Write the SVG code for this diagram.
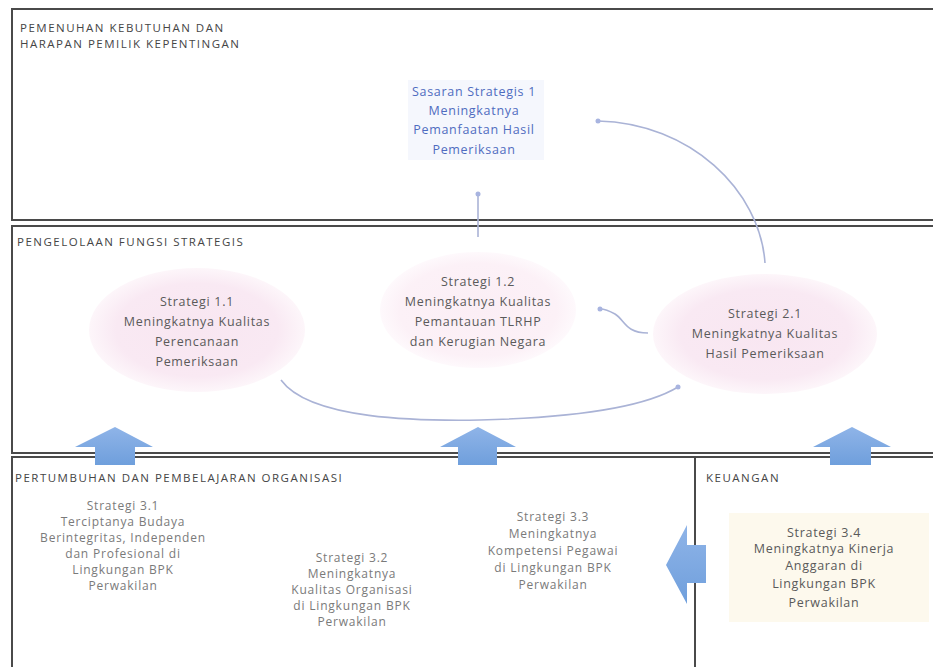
<svg xmlns="http://www.w3.org/2000/svg" width="933" height="667" viewBox="0 0 933 667">
<defs>
<radialGradient id="pink" cx="0.5" cy="0.5" r="0.5">
<stop offset="0" stop-color="#f8e6f1"/>
<stop offset="0.75" stop-color="#f9e9f3"/>
<stop offset="1" stop-color="#fdf6fa"/>
</radialGradient>
<radialGradient id="pink2" cx="0.5" cy="0.5" r="0.5">
<stop offset="0" stop-color="#fbeef5"/>
<stop offset="0.8" stop-color="#fcf1f7"/>
<stop offset="1" stop-color="#fef9fc"/>
</radialGradient>
<marker id="dot" viewBox="0 0 6 6" refX="3" refY="3" markerWidth="6" markerHeight="6" markerUnits="userSpaceOnUse">
<circle cx="3" cy="3" r="2.5" fill="#a8b4e0"/>
</marker>
<linearGradient id="arr" x1="0" y1="0" x2="0" y2="1">
<stop offset="0" stop-color="#8fb4e8"/>
<stop offset="1" stop-color="#6f9fdc"/>
</linearGradient>
</defs>
<style>
.box{fill:none;stroke:#4a4a4a;stroke-width:2}
.sec{font-family:"Open Sans",sans-serif;font-size:11.5px;fill:#454545;letter-spacing:1.5px}
.t{font-family:"Open Sans",sans-serif;font-size:12.5px;fill:#5a5a5a;text-anchor:middle;letter-spacing:0.7px}
.tl{font-family:"Open Sans",sans-serif;font-size:12px;fill:#7a7a7a;text-anchor:middle;letter-spacing:0.8px}
.tb{font-family:"Open Sans",sans-serif;font-size:12.5px;fill:#4f6cc0;text-anchor:middle;letter-spacing:0.7px}
.c{fill:none;stroke:#aab3d6;stroke-width:1.6}
.ar{fill:url(#arr)}
</style>
<rect width="933" height="667" fill="#ffffff"/>

<g id="sections">
<rect class="box" x="12" y="9" width="930" height="211"/>
<rect class="box" x="12" y="226" width="930" height="227"/>
<rect class="box" x="12" y="457" width="930" height="220"/>
<line class="box" x1="695" y1="457" x2="695" y2="667"/>
<text class="sec" x="20" y="32">PEMENUHAN KEBUTUHAN DAN</text>
<text class="sec" x="20" y="48">HARAPAN PEMILIK KEPENTINGAN</text>
<text class="sec" x="17" y="246">PENGELOLAAN FUNGSI STRATEGIS</text>
<text class="sec" x="15" y="482">PERTUMBUHAN DAN PEMBELAJARAN ORGANISASI</text>
<text class="sec" x="706" y="482">KEUANGAN</text>
</g>

<g id="arrows-up">
<polygon class="ar" points="115,427 153,447 135,447 135,465 95,465 95,447 75,447"/>
<polygon class="ar" points="478,427 516,447 497,447 497,465 458,465 458,447 440,447"/>
<polygon class="ar" points="852,427 891,447 871,447 871,465 830,465 830,447 813,447"/>
<polygon class="ar" points="666,565 687,525 687,545 706,545 706,583 687,583 687,604"/>
</g>

<g id="connectors">
<path class="c" d="M765,263 C760,190 690,123 598,121" marker-end="url(#dot)"/>
<path class="c" d="M478,237 L478,194" marker-end="url(#dot)"/>
<path class="c" d="M648,333 C625,333 625,320 615,314 C608,310 604,309 600,309" marker-end="url(#dot)"/>
<path class="c" d="M281,380 C310,420 420,421 480,420 C560,418 640,410 678,387" marker-end="url(#dot)"/>
</g>

<g id="sasaran1">
<rect x="408" y="80" width="136" height="80" fill="#f5f7fd"/>
<text class="tb" x="474" y="96">Sasaran Strategis 1</text>
<text class="tb" x="474" y="115">Meningkatnya</text>
<text class="tb" x="474" y="134">Pemanfaatan Hasil</text>
<text class="tb" x="474" y="154">Pemeriksaan</text>
</g>

<g id="strategi11">
<ellipse cx="197" cy="330" rx="108" ry="62" fill="url(#pink)"/>
<text class="t" x="197" y="306">Strategi 1.1</text>
<text class="t" x="197" y="326">Meningkatnya Kualitas</text>
<text class="t" x="197" y="346">Perencanaan</text>
<text class="t" x="197" y="366">Pemeriksaan</text>
</g>

<g id="strategi12">
<ellipse cx="478" cy="310" rx="98" ry="58" fill="url(#pink2)"/>
<text class="t" x="478" y="286">Strategi 1.2</text>
<text class="t" x="478" y="306">Meningkatnya Kualitas</text>
<text class="t" x="478" y="326">Pemantauan TLRHP</text>
<text class="t" x="478" y="346">dan Kerugian Negara</text>
</g>

<g id="strategi21">
<ellipse cx="765" cy="334" rx="112" ry="60" fill="url(#pink)"/>
<text class="t" x="765" y="318">Strategi 2.1</text>
<text class="t" x="765" y="338">Meningkatnya Kualitas</text>
<text class="t" x="765" y="358">Hasil Pemeriksaan</text>
</g>

<g id="strategi31">
<text class="tl" x="123" y="510">Strategi 3.1</text>
<text class="tl" x="123" y="526">Terciptanya Budaya</text>
<text class="tl" x="123" y="542">Berintegritas, Independen</text>
<text class="tl" x="123" y="558">dan Profesional di</text>
<text class="tl" x="123" y="574">Lingkungan BPK</text>
<text class="tl" x="123" y="590">Perwakilan</text>
</g>

<g id="strategi32">
<text class="tl" x="352" y="562">Strategi 3.2</text>
<text class="tl" x="352" y="578">Meningkatnya</text>
<text class="tl" x="352" y="594">Kualitas Organisasi</text>
<text class="tl" x="352" y="610">di Lingkungan BPK</text>
<text class="tl" x="352" y="626">Perwakilan</text>
</g>

<g id="strategi33">
<text class="tl" x="553" y="521">Strategi 3.3</text>
<text class="tl" x="553" y="538">Meningkatnya</text>
<text class="tl" x="553" y="555">Kompetensi Pegawai</text>
<text class="tl" x="553" y="572">di Lingkungan BPK</text>
<text class="tl" x="553" y="589">Perwakilan</text>
</g>

<g id="strategi34">
<rect x="729" y="513" width="200" height="109" fill="#fdf9ed"/>
<text class="t" x="824" y="537">Strategi 3.4</text>
<text class="t" x="824" y="553">Meningkatnya Kinerja</text>
<text class="t" x="824" y="570">Anggaran di</text>
<text class="t" x="824" y="588">Lingkungan BPK</text>
<text class="t" x="824" y="607">Perwakilan</text>
</g>
</svg>
